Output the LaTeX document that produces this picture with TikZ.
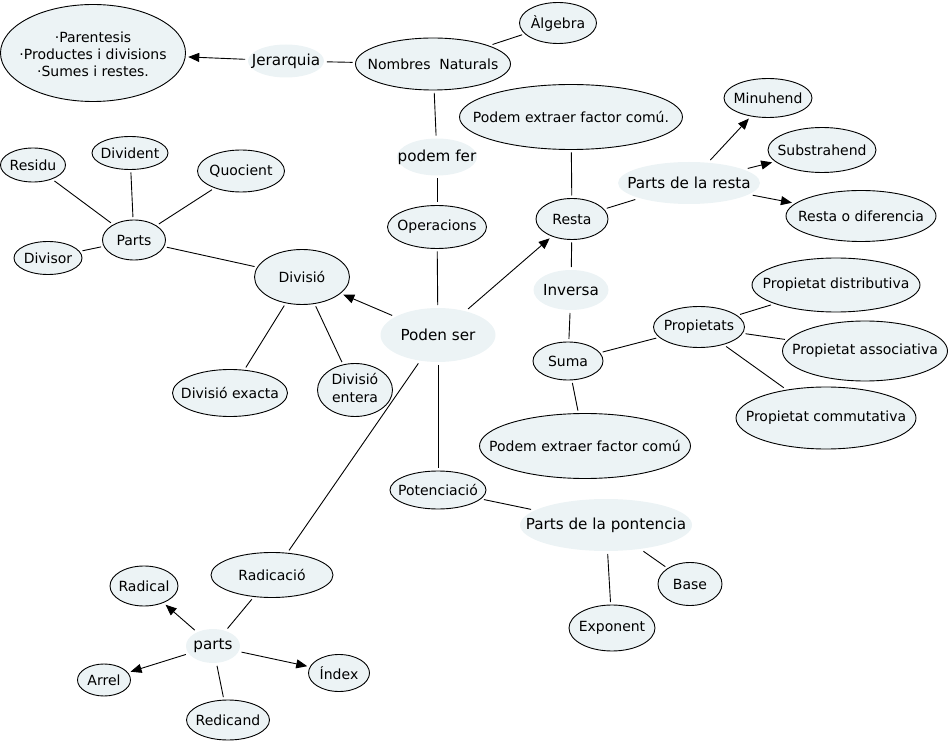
\documentclass[tikz,border=0pt]{standalone}
\usepackage{fontspec}
\setmainfont{DejaVu Sans}
\usetikzlibrary{arrows.meta,shapes.geometric}
\definecolor{nodefill}{RGB}{236,243,245}
\newcommand\zw[1]{\makebox[0pt]{#1}}
\newcommand\zl[1]{\makebox[0pt]{\begin{tabular}{@{}c@{}}#1\end{tabular}}}
\tikzset{
  concept/.style={ellipse, draw=black, line width=0.9pt, fill=nodefill, inner sep=0pt, outer sep=3pt,
    font=\fontsize{14}{17}\selectfont},
  linkph/.style={ellipse, fill=nodefill, inner sep=0pt, outer sep=3pt,
    font=\fontsize{15.2}{18}\selectfont},
  conn/.style={line width=0.9pt},
  arr/.style={line width=0.9pt, -{Triangle[length=11pt,width=9pt]}},
  sz/.style 2 args={minimum width=#1pt, minimum height=#2pt},
}
\begin{document}
\begin{tikzpicture}[x=1pt,y=-1pt]
\useasboundingbox (0,0) rectangle (951,743);

% top left
\node[concept, sz={185}{97}] (jer) at (93,53) {\raisebox{-6.5pt}[0pt][0pt]{\zl{·Parentesis\\·Productes i divisions\\·Sumes i restes.}}};
\node[linkph, sz={76}{33}] (jerq) at (286,61) {\zw{Jerarquia}};
\node[concept, sz={155}{52}] (nn) at (433,64) {\zw{Nombres\ \ Naturals}};
\node[concept, sz={77}{41}] (alg) at (558,23) {\zw{Àlgebra}};
\node[linkph, sz={80}{37}] (pf) at (437,157) {\zw{podem fer}};
\node[concept, sz={99}{43}] (op) at (437,227) {\zw{Operacions}};
\node[linkph, sz={115}{54}] (ps) at (438,335) {\zw{Poden ser}};

% division
\node[concept, sz={95}{55}] (div) at (302,277) {\zw{Divisió}};
\node[concept, sz={115}{47}] (dex) at (230,393) {\zw{Divisió exacta}};
\node[concept, sz={75}{53}, font=\fontsize{14}{18}\selectfont] (den) at (355,390) {\zl{Divisió\\entera}};
\node[concept, sz={63}{40}] (parts) at (134,240) {\zw{Parts}};
\node[concept, sz={65}{34}] (res) at (33,165) {\zw{Residu}};
\node[concept, sz={76}{33}] (dvd) at (130,153) {\zw{Divident}};
\node[concept, sz={87}{42}] (quo) at (241,171) {\zw{Quocient}};
\node[concept, sz={68}{33}] (dvs) at (48,258) {\zw{Divisor}};

% resta / suma
\node[concept, sz={223}{65}] (peft) at (571,117) {\zw{Podem extraer factor comú.}};
\node[concept, sz={72}{41}] (resta) at (572,219) {\zw{Resta}};
\node[linkph, sz={142}{42}] (pdr) at (689,183) {\zw{Parts de la resta}};
\node[concept, sz={88}{39}] (min) at (768,98) {\zw{Minuhend}};
\node[concept, sz={108}{45}] (sub) at (822,150) {\zw{Substrahend}};
\node[concept, sz={150}{51}] (rod) at (861,216) {\zw{Resta o diferencia}};
\node[linkph, sz={75}{40}] (inv) at (571,290) {\zw{Inversa}};
\node[concept, sz={70}{38}] (suma) at (568,361) {\zw{Suma}};
\node[concept, sz={91}{41}] (prop) at (699,327) {\zw{Propietats}};
\node[concept, sz={211}{65}] (pefb) at (585,446) {\zw{Podem extraer factor comú}};
\node[concept, sz={168}{54}] (pd) at (836,285) {\zw{Propietat distributiva}};
\node[concept, sz={165}{60}] (pa) at (865,351) {\zw{Propietat associativa}};
\node[concept, sz={180}{62}] (pc) at (826,418) {\zw{Propietat commutativa}};

% potenciacio
\node[concept, sz={96}{38}] (pot) at (438,490) {\zw{Potenciació}};
\node[linkph, sz={172}{52}] (pdp) at (606,525) {\zw{Parts de la pontencia}};
\node[concept, sz={86}{46}] (exp) at (612,628) {\zw{Exponent}};
\node[concept, sz={64}{43}] (base) at (690,584) {\zw{Base}};

% radicacio
\node[concept, sz={122}{45}] (rad) at (272,575) {\zw{Radicació}};
\node[linkph, sz={54}{34}] (rparts) at (213,646) {\zw{parts}};
\node[concept, sz={68}{40}] (radl) at (144,586) {\zw{Radical}};
\node[concept, sz={53}{32}] (arr) at (104,680) {\zw{Arrel}};
\node[concept, sz={61}{37}] (idx) at (339,673) {\zw{Índex}};
\node[concept, sz={83}{40}] (red) at (228,720) {\zw{Redicand}};

% connectors
\draw[arr] (jerq) -- (jer);
\draw[conn] (jerq) -- (nn);
\draw[conn] (nn) -- (alg);
\draw[conn] (nn) -- (pf);
\draw[conn] (pf) -- (op);
\draw[conn] (op) -- (ps);
\draw[arr] (ps) -- (div);
\draw[arr] (ps) -- (resta);
\draw[conn] (ps) -- (pot);
\draw[conn] (ps) -- (rad);

\draw[conn] (parts) -- (div);
\draw[conn] (div) -- (dex);
\draw[conn] (div) -- (den);
\draw[conn] (res) -- (parts);
\draw[conn] (dvd) -- (parts);
\draw[conn] (quo) -- (parts);
\draw[conn] (dvs) -- (parts);

\draw[conn] (peft) -- (resta);
\draw[conn] (resta) -- (pdr);
\draw[arr] (pdr) -- (min);
\draw[arr] (pdr) -- (sub);
\draw[arr] (pdr) -- (rod);
\draw[conn] (resta) -- (inv);
\draw[conn] (inv) -- (suma);
\draw[conn] (suma) -- (prop);
\draw[conn] (suma) -- (pefb);
\draw[conn] (prop) -- (pd);
\draw[conn] (prop) -- (pa);
\draw[conn] (prop) -- (pc);

\draw[conn] (pot) -- (pdp);
\draw[conn] (pdp) -- (exp);
\draw[conn] (pdp) -- (base);

\draw[conn] (rad) -- (rparts);
\draw[arr] (rparts) -- (radl);
\draw[arr] (rparts) -- (arr);
\draw[arr] (rparts) -- (idx);
\draw[conn] (rparts) -- (red);
\end{tikzpicture}
\end{document}
